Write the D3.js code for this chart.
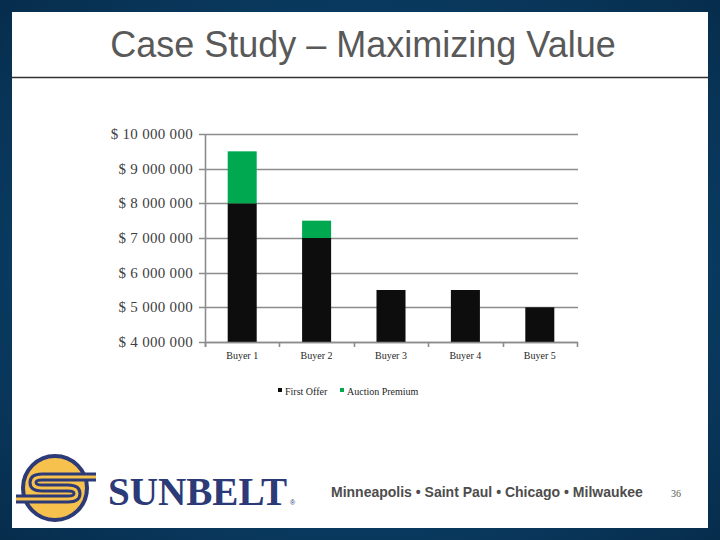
<!DOCTYPE html>
<html>
<head>
<meta charset="utf-8">
<script src="https://cdn.jsdelivr.net/npm/d3@7/dist/d3.min.js"></script>
<style>
  html, body { margin: 0; padding: 0; }
  svg { display: block; }
</style>
</head>
<body>
<script>
var buyers = ["Buyer 1", "Buyer 2", "Buyer 3", "Buyer 4", "Buyer 5"];
var firstOffer = [8000000, 7000000, 5500000, 5500000, 5000000];
var auctionPremium = [1500000, 500000, 0, 0, 0];
var seriesNames = ["First Offer", "Auction Premium"];
var yTicks = [4000000, 5000000, 6000000, 7000000, 8000000, 9000000, 10000000];

var W = 720, H = 540;
var colors = ["#0d0d0d", "#00a94f"];
var serif = "'Liberation Serif', 'DejaVu Serif', serif";

var svg = d3.select("body").append("svg")
  .attr("width", W)
  .attr("height", H);

// slide background
var defs = svg.append("defs");
var grad = defs.append("radialGradient")
  .attr("id", "bg")
  .attr("cx", "50%").attr("cy", "50%").attr("r", "75%");
grad.append("stop").attr("offset", "0%").attr("stop-color", "#0f5588");
grad.append("stop").attr("offset", "100%").attr("stop-color", "#062a48");

svg.append("rect")
  .attr("width", W).attr("height", H)
  .attr("fill", "url(#bg)");

svg.append("rect")
  .attr("x", 12).attr("y", 12)
  .attr("width", 696).attr("height", 516)
  .attr("fill", "#ffffff");

// title
svg.append("text")
  .attr("x", 363).attr("y", 57)
  .attr("text-anchor", "middle")
  .attr("font-family", "'Liberation Sans', Arial, sans-serif")
  .attr("font-size", 36)
  .attr("fill", "#595959")
  .text("Case Study \u2013 Maximizing Value");

svg.append("line")
  .attr("x1", 12).attr("x2", 708)
  .attr("y1", 77.5).attr("y2", 77.5)
  .attr("stroke", "#333333")
  .attr("stroke-width", 1.5);

// chart
var plotLeft = 205, plotRight = 577, plotTop = 134, plotBottom = 342;

var x = d3.scaleBand()
  .domain(buyers)
  .range([plotLeft, plotRight])
  .paddingInner(0.61)
  .paddingOuter(0.305);

var xOuter = d3.scaleBand()
  .domain(buyers)
  .range([plotLeft, plotRight]);

var y = d3.scaleLinear()
  .domain([4000000, 10000000])
  .range([plotBottom, plotTop]);

var fmt = function (v) {
  return "$ " + d3.format(",")(v).replace(/,/g, " ");
};

var g = svg.append("g");

// gridlines
g.selectAll(".grid")
  .data(yTicks)
  .enter().append("line")
  .attr("class", "grid")
  .attr("x1", plotLeft - 6)
  .attr("x2", plotRight + 1)
  .attr("y1", function (d) { return Math.round(y(d)) + 0.5; })
  .attr("y2", function (d) { return Math.round(y(d)) + 0.5; })
  .attr("stroke", "#8c8c8c")
  .attr("stroke-width", 1.6);

// y labels
g.selectAll(".ylab")
  .data(yTicks)
  .enter().append("text")
  .attr("class", "ylab")
  .attr("x", 193)
  .attr("y", function (d) { return y(d) + 5; })
  .attr("text-anchor", "end")
  .attr("font-family", serif)
  .attr("font-size", 15)
  .attr("letter-spacing", 0.3)
  .attr("fill", "#404040")
  .text(fmt);

// stacked bars
var rows = buyers.map(function (b, i) {
  return { buyer: b, first: firstOffer[i], premium: auctionPremium[i] };
});
var stack = d3.stack().keys(["first", "premium"]);
var layers = stack(rows);

g.selectAll(".layer")
  .data(layers)
  .enter().append("g")
  .attr("class", "layer")
  .attr("fill", function (d, i) { return colors[i]; })
  .selectAll("rect")
  .data(function (d) { return d.filter(function (p) { return p[1] > p[0]; }); })
  .enter().append("rect")
  .attr("x", function (d) { return x(d.data.buyer); })
  .attr("width", x.bandwidth())
  .attr("y", function (d) { return y(Math.max(d[1], 4000000)); })
  .attr("height", function (d) {
    return y(Math.max(d[0], 4000000)) - y(Math.max(d[1], 4000000));
  });

// axes lines
g.append("line")
  .attr("x1", plotLeft + 0.5).attr("x2", plotLeft + 0.5)
  .attr("y1", plotTop).attr("y2", plotBottom + 5)
  .attr("stroke", "#8c8c8c")
  .attr("stroke-width", 1.6);

g.append("line")
  .attr("x1", plotLeft).attr("x2", plotRight + 1)
  .attr("y1", plotBottom + 0.5).attr("y2", plotBottom + 0.5)
  .attr("stroke", "#8c8c8c")
  .attr("stroke-width", 1.6);

var bounds = buyers.map(function (b) { return xOuter(b); }).concat([plotRight]);
g.selectAll(".xtick")
  .data(bounds)
  .enter().append("line")
  .attr("class", "xtick")
  .attr("x1", function (d) { return Math.round(d) + 0.5; })
  .attr("x2", function (d) { return Math.round(d) + 0.5; })
  .attr("y1", plotBottom).attr("y2", plotBottom + 5)
  .attr("stroke", "#8c8c8c")
  .attr("stroke-width", 1.6);

g.selectAll(".xlab")
  .data(buyers)
  .enter().append("text")
  .attr("class", "xlab")
  .attr("x", function (d) { return x(d) + x.bandwidth() / 2; })
  .attr("y", 359)
  .attr("text-anchor", "middle")
  .attr("font-family", serif)
  .attr("font-size", 10)
  .attr("fill", "#262626")
  .text(function (d) { return d; });

// legend
var legendX = [278, 340];
var legend = g.selectAll(".legend")
  .data(seriesNames)
  .enter().append("g")
  .attr("class", "legend")
  .attr("transform", function (d, i) { return "translate(" + legendX[i] + ",392)"; });

legend.append("rect")
  .attr("x", 0).attr("y", -4)
  .attr("width", 4).attr("height", 4)
  .attr("fill", function (d, i) { return colors[i]; });

legend.append("text")
  .attr("x", 7).attr("y", 3)
  .attr("font-family", serif)
  .attr("font-size", 10)
  .attr("fill", "#262626")
  .text(function (d) { return d; });

// logo
var logo = svg.append("g");
logo.append("circle")
  .attr("cx", 55).attr("cy", 488).attr("r", 32)
  .attr("fill", "#f6c24d")
  .attr("stroke", "#2c3a78")
  .attr("stroke-width", 4);

var sPath = "M 96 477 L 42 477 Q 33 477 33 482.5 Q 33 488 42 488 L 68 488 Q 77 488 77 493.5 Q 77 499 68 499 L 16 499";
logo.append("path")
  .attr("d", sPath)
  .attr("fill", "none")
  .attr("stroke", "#2c3a78")
  .attr("stroke-width", 9);
logo.append("path")
  .attr("d", sPath)
  .attr("fill", "none")
  .attr("stroke", "#f6c24d")
  .attr("stroke-width", 3);

logo.append("text")
  .attr("x", 108).attr("y", 505)
  .attr("font-family", serif)
  .attr("font-weight", "bold")
  .attr("font-size", 41)
  .attr("textLength", 179)
  .attr("lengthAdjust", "spacingAndGlyphs")
  .attr("fill", "#2c3a78")
  .text("SUNBELT");

logo.append("text")
  .attr("x", 290).attr("y", 505)
  .attr("font-family", "'Liberation Sans', Arial, sans-serif")
  .attr("font-size", 7)
  .attr("fill", "#2c3a78")
  .text("\u00ae");

// footer
svg.append("text")
  .attr("x", 331).attr("y", 497)
  .attr("font-family", "'Liberation Sans', Arial, sans-serif")
  .attr("font-weight", "bold")
  .attr("font-size", 14)
  .attr("fill", "#4d4d4d")
  .text("Minneapolis \u2022  Saint Paul \u2022 Chicago \u2022 Milwaukee");

svg.append("text")
  .attr("x", 676).attr("y", 497)
  .attr("text-anchor", "middle")
  .attr("font-family", serif)
  .attr("font-size", 10)
  .attr("fill", "#595959")
  .text("36");
</script>
</body>
</html>
